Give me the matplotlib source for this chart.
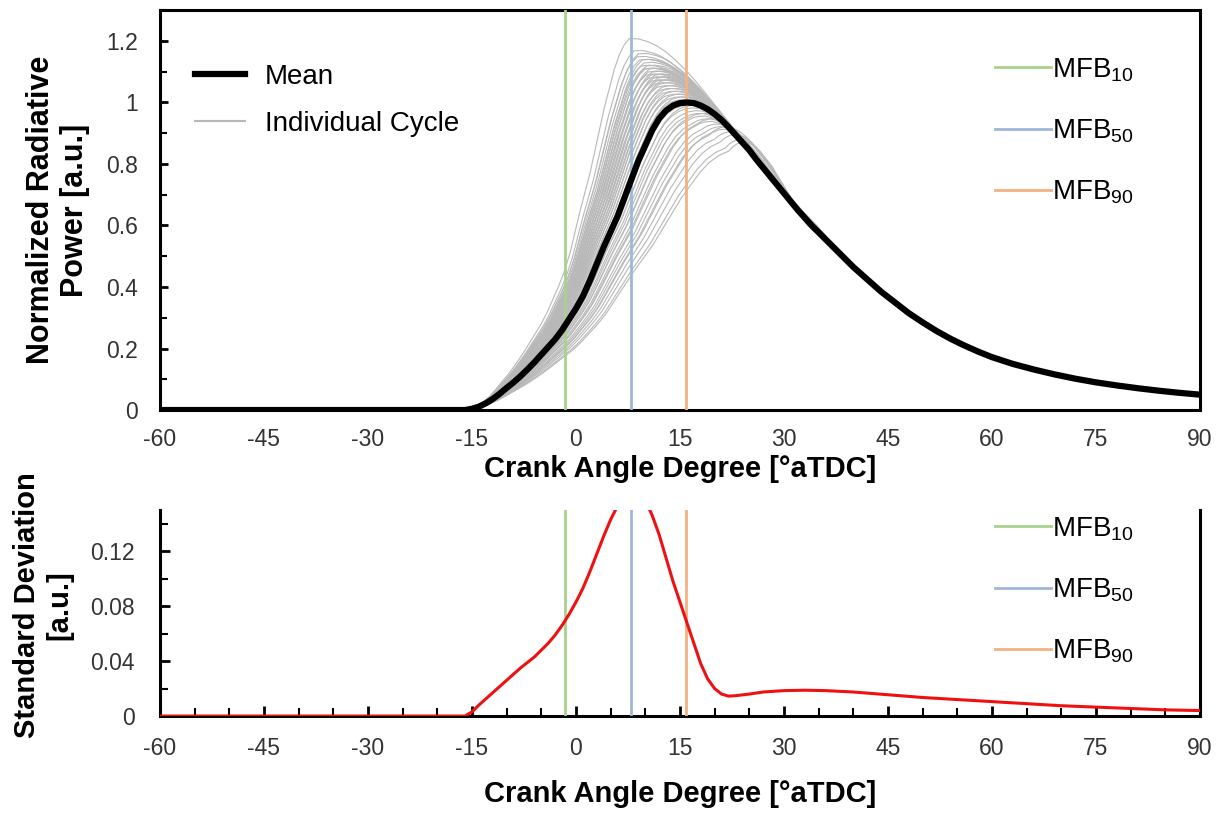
import numpy as np
import matplotlib
matplotlib.use("Agg")
import matplotlib.pyplot as plt
from matplotlib.lines import Line2D
from matplotlib.ticker import MultipleLocator

plt.rcParams['font.family'] = ['Liberation Sans', 'DejaVu Sans']
plt.rcParams['mathtext.default'] = 'regular'
plt.rcParams['axes.unicode_minus'] = False

# mean normalized radiative power
mean_angle = [-60, -30, -17, -16, -15, -14, -13, -12, -11, -10, -9, -8, -7, -6, -5, -4, -3, -2, -1,
              0, 1, 2, 3, 4, 5, 6, 7, 8, 9, 10, 11, 12, 13, 14, 15, 16, 17, 18, 19, 20, 21, 22,
              23, 24, 25, 26, 28, 30, 32, 34, 36, 38, 40, 42, 44, 46, 48, 50, 52, 54, 56, 58,
              60, 63, 66, 69, 72, 75, 78, 81, 84, 87, 90]
mean_power = [0, 0, 0, 0, 0.004, 0.011, 0.022, 0.036, 0.053, 0.072, 0.09, 0.11, 0.132, 0.155,
              0.18, 0.205, 0.23, 0.26, 0.295, 0.33, 0.37, 0.42, 0.475, 0.53, 0.58, 0.63, 0.69,
              0.75, 0.81, 0.86, 0.91, 0.948, 0.974, 0.99, 0.998, 1.0, 0.998, 0.99, 0.978, 0.962,
              0.943, 0.92, 0.895, 0.87, 0.845, 0.815, 0.76, 0.705, 0.65, 0.60, 0.555, 0.51, 0.465,
              0.425, 0.385, 0.35, 0.315, 0.285, 0.257, 0.232, 0.21, 0.19, 0.172, 0.15, 0.132,
              0.116, 0.102, 0.09, 0.08, 0.071, 0.063, 0.056, 0.05]

# per-cycle phase offset [deg] and peak level, estimated from the grey bundle
cycle_shift = [-6.3, -5.6, -5.2, -5.0, -4.8, -4.6, -4.4, -4.3, -4.2, -4.0, -3.9, -3.8, -3.6,
               -3.5, -3.4, -3.2, -3.1, -3.0, -2.8, -2.7, -2.6, -2.4, -2.3, -2.2, -2.0, -1.9,
               -1.8, -1.6, -1.5, -1.4, -1.2, -1.0, -0.8, -0.6, -0.4, -0.2, 0.0, 0.2, 0.5, 0.8,
               1.0, 1.3, 1.6, 2.0, 2.3, 2.7, 3.0, 3.5, 4.0, 4.5, 5.0, 5.5, 6.0, 6.8, 7.5, 8.0]
cycle_peak = [1.22, 1.18, 1.16, 1.17, 1.15, 1.13, 1.15, 1.12, 1.14, 1.12, 1.10, 1.13, 1.11,
              1.09, 1.12, 1.10, 1.08, 1.11, 1.09, 1.07, 1.10, 1.08, 1.06, 1.09, 1.07, 1.05,
              1.08, 1.06, 1.04, 1.05, 1.03, 1.04, 1.02, 1.03, 1.01, 1.02, 1.00, 0.99, 1.01,
              0.98, 0.99, 0.97, 0.96, 0.95, 0.96, 0.94, 0.93, 0.94, 0.92, 0.91, 0.90, 0.91,
              0.89, 0.88, 0.86, 0.85]

# standard deviation across cycles, bottom panel
std_angle = [-60, -16, -15, -14, -12, -10, -8, -6, -4, -3, -2, -1, 0, 1, 2, 3, 4, 5, 6, 7, 8, 9,
             10, 11, 12, 13, 14, 15, 16, 17, 18, 19, 20, 21, 22, 23, 25, 27, 30, 33, 36, 40,
             45, 50, 55, 60, 65, 70, 75, 80, 85, 90]
std_value = [0, 0, 0.003, 0.008, 0.017, 0.026, 0.035, 0.043, 0.053, 0.059, 0.066, 0.074, 0.083,
             0.093, 0.105, 0.118, 0.131, 0.143, 0.153, 0.16, 0.164, 0.163, 0.157, 0.146, 0.132,
             0.115, 0.098, 0.083, 0.068, 0.053, 0.038, 0.027, 0.02, 0.016, 0.0145, 0.0148,
             0.016, 0.0175, 0.0185, 0.0188, 0.0185, 0.0175, 0.0155, 0.0135, 0.012, 0.0105,
             0.009, 0.0075, 0.0065, 0.0055, 0.0045, 0.004]

mfb_angle = [-1.6, 7.9, 15.9]
mfb_label = ['MFB$_{10}$', 'MFB$_{50}$', 'MFB$_{90}$']
mfb_color = ['#a9d18e', '#9fb8d8', '#f4b183']

xticks = [-60, -45, -30, -15, 0, 15, 30, 45, 60, 75, 90]

fig = plt.figure(figsize=(12.2, 8.16), dpi=100)
ax1 = fig.add_axes([0.1311, 0.4975, 0.8525, 0.490])
ax2 = fig.add_axes([0.1311, 0.1225, 0.8525, 0.2525])

# individual cycles: the mean shape moved by each cycle's offset and scaled to its peak
ang = np.array(mean_angle, dtype=float)
pw = np.array(mean_power)
w_shift = np.interp(ang, [-15, 2, 14, 20, 30, 40], [0, 0.45, 1, 0.7, 0.15, 0])
w_gain = np.interp(ang, [-15, 14, 22, 34], [1, 1, 0.6, 0])
for s, p in zip(cycle_shift, cycle_peak):
    ax1.plot(ang + s * w_shift, pw * (1 + (p - 1) * w_gain), color='#b8b8b8', lw=0.8, zorder=2)

for a, c in zip(mfb_angle, mfb_color):
    ax1.axvline(a, color=c, lw=2, zorder=3)
    ax2.axvline(a, color=c, lw=2, zorder=3)

ax1.plot(mean_angle, mean_power, color='black', lw=4.5, zorder=4)

ax1.set_xlim(-60, 90)
ax1.set_ylim(0, 1.3)
ax1.set_xticks(xticks)
ax1.set_yticks([0, 0.2, 0.4, 0.6, 0.8, 1.0, 1.2])
ax1.set_yticklabels(['0', '0.2', '0.4', '0.6', '0.8', '1', '1.2'])
ax1.yaxis.set_minor_locator(MultipleLocator(0.1))
ax1.tick_params(axis='x', length=0, labelsize=16.5, pad=13, colors='#333333')
ax1.tick_params(axis='y', which='both', direction='in', labelsize=16.5, pad=16, colors='#333333')
ax1.tick_params(axis='y', which='major', length=6, width=2, color='black')
ax1.tick_params(axis='y', which='minor', length=5, width=1.5, color='black')
for sp in ax1.spines.values():
    sp.set_linewidth(2.2)
ax1.set_xlabel('Crank Angle Degree [°aTDC]', fontsize=21, fontweight='bold')
ax1.xaxis.set_label_coords(0.5, -0.112)
ax1.set_ylabel('Normalized Radiative\nPower [a.u.]', fontsize=22, fontweight='bold')
ax1.yaxis.set_label_coords(-0.067, 0.5)

h1 = [Line2D([], [], color='black', lw=4.5), Line2D([], [], color='#b8b8b8', lw=1.5)]
leg1 = ax1.legend(h1, ['Mean', 'Individual Cycle'], loc='upper left', bbox_to_anchor=(0.034, 0.865),
                  frameon=False, fontsize=20, handlelength=1.8, handletextpad=0.7,
                  labelspacing=0.75, borderpad=0, borderaxespad=0)
ax1.add_artist(leg1)
hm = [Line2D([], [], color=c, lw=2) for c in mfb_color]
ax1.legend(hm, mfb_label, loc='upper left', bbox_to_anchor=(0.803, 0.885), frameon=False,
           fontsize=20, handlelength=2.0, handletextpad=0.05, labelspacing=1.22,
           borderpad=0, borderaxespad=0)

ax2.plot(std_angle, std_value, color='#ee1111', lw=2.2, zorder=4)
ax2.set_xlim(-60, 90)
ax2.set_ylim(0, 0.15)
ax2.set_xticks(xticks)
ax2.xaxis.set_minor_locator(MultipleLocator(5))
ax2.set_yticks([0, 0.04, 0.08, 0.12])
ax2.set_yticklabels(['0', '0.04', '0.08', '0.12'])
ax2.yaxis.set_minor_locator(MultipleLocator(0.02))
ax2.tick_params(which='both', direction='in', labelsize=16.5, colors='#333333')
ax2.tick_params(which='major', length=7, width=2, color='black')
ax2.tick_params(which='minor', length=6, width=1.5, color='black')
ax2.tick_params(axis='x', pad=15)
ax2.tick_params(axis='y', pad=18)
ax2.spines['top'].set_visible(False)
for k in ['left', 'right', 'bottom']:
    ax2.spines[k].set_linewidth(2.2)
ax2.set_xlabel('Crank Angle Degree [°aTDC]', fontsize=21, fontweight='bold')
ax2.xaxis.set_label_coords(0.5, -0.31)
ax2.set_ylabel('Standard Deviation\n[a.u.]', fontsize=21, fontweight='bold')
ax2.yaxis.set_label_coords(-0.083, 0.54)
ax2.legend(hm, mfb_label, loc='upper left', bbox_to_anchor=(0.803, 0.975), frameon=False,
           fontsize=20, handlelength=2.0, handletextpad=0.05, labelspacing=1.22,
           borderpad=0, borderaxespad=0)

fig.savefig('out.png', dpi=100)
